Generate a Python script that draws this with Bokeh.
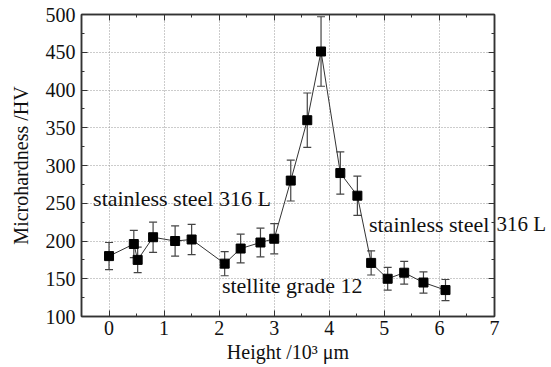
from bokeh.plotting import figure
from bokeh.models import (ColumnDataSource, Whisker, LinearAxis, FixedTicker, Label,
                          Range1d, TeeHead, CustomJSTickFormatter)
from bokeh.embed import file_html
from bokeh.resources import INLINE

# ---- data ----
height_pos = [0.0, 0.45, 0.52, 0.80, 1.20, 1.50, 2.10, 2.39, 2.75, 3.00,
              3.30, 3.60, 3.85, 4.20, 4.51, 4.76, 5.06, 5.36, 5.71, 6.11]
hardness = [180, 196, 175, 205, 200, 202, 170, 190, 198, 203,
            280, 360, 451, 290, 260, 171, 150, 158, 145, 135]
hardness_err = [18, 18, 17, 20, 20, 20, 16, 19, 19, 20,
                27, 36, 46, 28, 26, 16, 15, 15, 14, 14]

x_ticks = [0, 1, 2, 3, 4, 5, 6, 7]
x_minor = [-0.5, 0.5, 1.5, 2.5, 3.5, 4.5, 5.5, 6.5]
y_ticks = [100, 150, 200, 250, 300, 350, 400, 450, 500]
y_minor = [125, 175, 225, 275, 325, 375, 425, 475]

# annotations; the right-hand one runs past the frame, so its tail is drawn outside
annot_text = ["stainless steel 316 L", "stainless steel", "stellite grade 12"]
annot_x = [-0.29, 4.72, 2.05]
annot_y = [256, 222, 141]
tail_text = "316 L"
tail_y = 222

x_label = "Height /10\u00b3 \u03bcm"
y_label = "Microhardness /HV"

FONT = "Liberation Serif"

src = ColumnDataSource(dict(
    x=height_pos, y=hardness,
    upper=[h + e for h, e in zip(hardness, hardness_err)],
    lower=[h - e for h, e in zip(hardness, hardness_err)],
))

p = figure(frame_width=413, frame_height=302,
           x_range=Range1d(-0.5, 7), y_range=Range1d(100, 500),
           output_backend="svg", toolbar_location=None,
           min_border_left=81, min_border_right=10, min_border_top=14, min_border_bottom=34)
p.background_fill_color = "white"
p.border_fill_color = "white"
p.outline_line_color = "#333333"
p.outline_line_width = 1.5

def style_axis(ax, ticks, minor, labels=True):
    ax.ticker = FixedTicker(ticks=ticks, minor_ticks=minor)
    ax.major_tick_in = 6
    ax.major_tick_out = 0
    ax.minor_tick_in = 3
    ax.minor_tick_out = 0
    ax.axis_line_color = "#333333"
    ax.axis_line_width = 1.5
    ax.major_tick_line_color = "#333333"
    ax.minor_tick_line_color = "#333333"
    ax.major_label_text_font = FONT
    ax.major_label_text_font_size = "20px"
    ax.major_label_text_color = "#111111"
    ax.axis_label_text_font = FONT
    ax.axis_label_text_font_size = "20px"
    ax.axis_label_text_font_style = "normal"
    ax.axis_label_text_color = "#111111"
    if not labels:
        ax.formatter = CustomJSTickFormatter(code="return ''")
        ax.major_label_standoff = 0

xa = p.xaxis[0]
ya = p.yaxis[0]
style_axis(xa, x_ticks, x_minor)
style_axis(ya, y_ticks, y_minor)
xa.axis_label = x_label
ya.axis_label = y_label
xa.major_label_standoff = 4
xa.axis_label_standoff = 3
ya.major_label_standoff = 6
ya.axis_label_standoff = 11

top = LinearAxis()
style_axis(top, x_ticks, x_minor, labels=False)
p.add_layout(top, "above")
right = LinearAxis()
style_axis(right, y_ticks, y_minor, labels=False)
p.add_layout(right, "right")

# tail of the right-hand annotation, drawn in the right border (unclipped)
tail = LinearAxis(ticker=FixedTicker(ticks=[tail_y], minor_ticks=[]),
                  major_label_overrides={tail_y: tail_text})
tail.axis_line_color = None
tail.major_tick_line_color = None
tail.minor_tick_line_color = None
tail.major_tick_in = 0
tail.major_tick_out = 0
tail.minor_tick_in = 0
tail.minor_tick_out = 0
tail.major_label_standoff = 2
tail.major_label_text_font = FONT
tail.major_label_text_font_size = "21px"
tail.major_label_text_color = "#111111"
p.add_layout(tail, "right")

p.xgrid.ticker = FixedTicker(ticks=x_ticks)
p.ygrid.ticker = FixedTicker(ticks=y_ticks)
for g in (p.xgrid, p.ygrid):
    g.grid_line_color = "#999999"
    g.grid_line_dash = "1 2"
    g.grid_line_width = 1

p.line("x", "y", source=src, line_color="#333333", line_width=1)

w = Whisker(base="x", upper="upper", lower="lower", source=src,
            line_color="#444444", line_width=1.2,
            upper_head=TeeHead(size=8, line_color="#444444", line_width=1.2),
            lower_head=TeeHead(size=8, line_color="#444444", line_width=1.2))
p.add_layout(w)

p.scatter("x", "y", source=src, marker="square", size=9, fill_color="black", line_color="black")

for t, ax_, ay_ in zip(annot_text, annot_x, annot_y):
    p.add_layout(Label(x=ax_, y=ay_, text=t, text_font=FONT, text_font_size="22px",
                       text_baseline="middle", text_align="left", text_color="#111111"))

open("out.html", "w").write(file_html(p, INLINE))
